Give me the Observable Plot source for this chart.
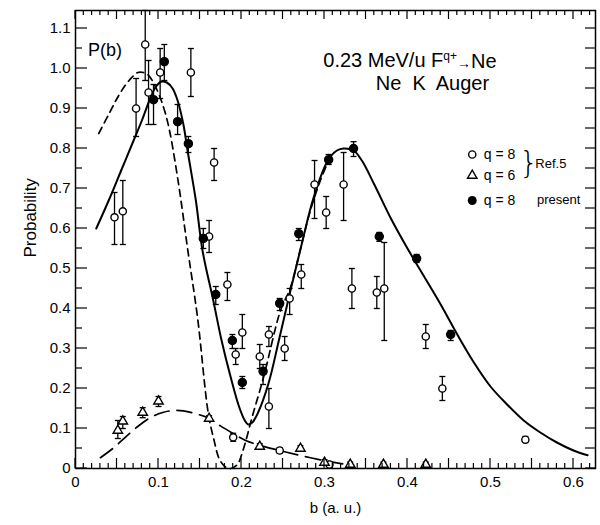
<!DOCTYPE html>
<html>
<head>
<meta charset="utf-8">
<script src="https://cdn.jsdelivr.net/npm/d3@7"></script>
<script src="https://cdn.jsdelivr.net/npm/@observablehq/plot@0.6"></script>
<style>
  html, body { margin: 0; padding: 0; background: #fff; }
</style>
</head>
<body>
<div id="chart"></div>
<script>
// ---- data ----
// q = 8 (Ref. 5), open circles
const openB  = [0.047,0.057,0.073,0.084,0.088,0.102,0.139,0.167,0.161,0.183,0.193,0.201,0.222,0.233,0.233,0.252,0.258,0.272,0.288,0.302,0.323,0.333,0.363,0.372,0.422,0.442,0.542,0.190,0.246,0.306];
const openP  = [0.628,0.643,0.900,1.060,0.940,0.990,0.990,0.765,0.580,0.460,0.285,0.340,0.280,0.335,0.155,0.300,0.425,0.485,0.710,0.640,0.710,0.450,0.440,0.450,0.330,0.200,0.072,0.078,0.045,0.010];
const openLo = [0.560,0.560,0.830,0.970,0.860,0.925,0.930,0.720,0.540,0.420,0.260,0.300,0.250,0.305,0.100,0.270,0.385,0.450,0.625,0.600,0.620,0.400,0.400,0.320,0.300,0.170,0.065,0.068,0.038,0.004];
const openHi = [0.690,0.720,0.975,1.145,1.020,1.050,1.050,0.800,0.620,0.490,0.300,0.385,0.310,0.355,0.200,0.330,0.450,0.510,0.770,0.680,0.790,0.500,0.480,0.565,0.360,0.230,0.080,0.088,0.052,0.016];
// q = 6 (Ref. 5), open triangles
const triB  = [0.051,0.057,0.081,0.100,0.161,0.222,0.271,0.300,0.331,0.371,0.422];
const triP  = [0.095,0.118,0.140,0.168,0.125,0.055,0.050,0.015,0.010,0.010,0.010];
const triLo = [0.075,0.100,0.127,0.155,0.118,0.048,0.043,0.008,0.004,0.004,0.004];
const triHi = [0.120,0.130,0.152,0.180,0.132,0.062,0.057,0.022,0.016,0.016,0.016];
// q = 8 present, filled circles
const fillB  = [0.094,0.107,0.123,0.136,0.154,0.169,0.189,0.201,0.226,0.246,0.269,0.305,0.335,0.366,0.411,0.452];
const fillP  = [0.922,1.017,0.867,0.812,0.575,0.435,0.320,0.215,0.243,0.413,0.587,0.772,0.800,0.580,0.525,0.335];
const fillLo = [0.860,0.970,0.835,0.790,0.550,0.410,0.300,0.200,0.210,0.395,0.570,0.760,0.780,0.568,0.515,0.320];
const fillHi = [0.960,1.060,0.910,0.830,0.600,0.455,0.335,0.230,0.260,0.425,0.600,0.785,0.817,0.590,0.535,0.345];
// theory curves
const solidB = [0.025,0.040,0.055,0.070,0.080,0.090,0.097,0.103,0.110,0.117,0.123,0.130,0.135,0.145,0.153,0.166,0.176,0.187,0.197,0.204,0.208,0.213,0.220,0.2325,0.245,0.259,0.273,0.287,0.304,0.315,0.323,0.335,0.345,0.360,0.380,0.400,0.420,0.440,0.460,0.480,0.500,0.520,0.540,0.560,0.580,0.600,0.617];
const solidP = [0.600,0.670,0.745,0.820,0.870,0.925,0.955,0.967,0.965,0.950,0.920,0.860,0.795,0.670,0.545,0.420,0.320,0.228,0.155,0.120,0.110,0.115,0.140,0.2125,0.320,0.445,0.565,0.678,0.770,0.795,0.800,0.795,0.770,0.710,0.625,0.550,0.480,0.410,0.335,0.265,0.205,0.160,0.120,0.090,0.065,0.045,0.033];
const shortB = [0.028,0.040,0.050,0.060,0.068,0.075,0.082,0.088,0.095,0.102,0.108,0.114,0.125,0.135,0.147,0.160,0.167,0.173,0.180,0.187,0.195,0.2025,0.213,0.2265,0.247,0.259,0.270,0.283,0.295,0.305];
const shortP = [0.8375,0.885,0.925,0.958,0.978,0.990,0.990,0.983,0.960,0.9275,0.890,0.8375,0.700,0.550,0.378,0.1375,0.070,0.025,0.005,0.000,0.010,0.050,0.130,0.2275,0.395,0.4525,0.540,0.645,0.720,0.770];
const longB = [0.030,0.045,0.060,0.075,0.090,0.105,0.118,0.130,0.145,0.161,0.175,0.190,0.205,0.223,0.246,0.270,0.299,0.320,0.335];
const longP = [0.027,0.050,0.078,0.105,0.127,0.140,0.145,0.144,0.137,0.125,0.106,0.0875,0.070,0.0575,0.045,0.033,0.020,0.012,0.008];
// axes and texts
const xTickValues = [0,0.1,0.2,0.3,0.4,0.5,0.6];
const xTickLabels = ["0","0.1","0.2","0.3","0.4","0.5","0.6"];
const yTickValues = [0,0.1,0.2,0.3,0.4,0.5,0.6,0.7,0.8,0.9,1.0,1.1];
const yTickLabels = ["0","0.1","0.2","0.3","0.4","0.5","0.6","0.7","0.8","0.9","1.0","1.1"];
const xLabel = "b (a. u.)";
const yLabel = "Probability";
const title1 = "0.23 MeV/u F";
const title2 = "Ne  K  Auger";
const pLabel = "P(b)";
const legendLabels = ["q = 8", "q = 6", "q = 8"];
const refLabel = "Ref.5";
const presentLabel = "present";

// ---- build tables ----
const pts = (B, P, Lo, Hi) => B.map((b, i) => ({b, p: P[i], lo: Lo[i], hi: Hi[i]}));
const openPts = pts(openB, openP, openLo, openHi);
const triPts  = pts(triB, triP, triLo, triHi);
const fillPts = pts(fillB, fillP, fillLo, fillHi);
const allPts = [...openPts, ...triPts, ...fillPts];
const toLine = (B, P) => B.map((b, i) => ({b, p: P[i]}));

const xMax = 0.6265, yMax = 1.145;
const font = "Liberation Sans, Arial, sans-serif";
const mL = 75, mR = 5, mT = 10, mB = 57, W = 600, H = 525;

const capSymbol = { draw(ctx, size) { const w = Math.sqrt(size / Math.PI); ctx.moveTo(-w, 0); ctx.lineTo(w, 0); } };

const isMaj = (v, step) => Math.abs(v / step - Math.round(v / step)) < 1e-6;
const xAll = d3.range(0, 63).map(i => i / 100);
const yAll = d3.range(0, 23).map(i => i / 20);

const chart = Plot.plot({
  width: W, height: H,
  marginLeft: mL, marginRight: mR, marginTop: mT, marginBottom: mB,
  style: { fontFamily: font },
  x: { domain: [0, xMax] },
  y: { domain: [0, yMax] },
  marks: [
    Plot.frame({ stroke: "#000", strokeWidth: 1.5 }),
    Plot.axisX({ ticks: xTickValues, tickFormat: d => xTickLabels[xTickValues.indexOf(d)], tickSize: 0, tickPadding: 8, fontSize: 15, label: xLabel, labelAnchor: "center", labelArrow: "none", labelOffset: 44 }),
    Plot.axisY({ ticks: yTickValues, tickFormat: d => yTickLabels[yTickValues.indexOf(d)], tickSize: 0, tickPadding: 5, fontSize: 15, label: null }),
    Plot.text([yLabel], { frameAnchor: "left", text: d => d, rotate: -90, dx: -45, dy: 18, fontSize: 17 }),
    // curves
    Plot.line(toLine(solidB, solidP), { x: "b", y: "p", curve: "catmull-rom", stroke: "#000", strokeWidth: 2 }),
    Plot.line(toLine(shortB, shortP), { x: "b", y: "p", curve: "catmull-rom", stroke: "#000", strokeWidth: 1.7, strokeDasharray: "7,5" }),
    Plot.line(toLine(longB, longP), { x: "b", y: "p", curve: "catmull-rom", stroke: "#000", strokeWidth: 1.7, strokeDasharray: "15,8" }),
    // error bars
    Plot.ruleX(allPts, { x: "b", y1: "lo", y2: "hi", stroke: "#000", strokeWidth: 1.3 }),
    Plot.dot(allPts, { x: "b", y: "lo", symbol: capSymbol, r: 3, stroke: "#000", strokeWidth: 1.3 }),
    Plot.dot(allPts, { x: "b", y: "hi", symbol: capSymbol, r: 3, stroke: "#000", strokeWidth: 1.3 }),
    // markers
    Plot.dot(openPts, { x: "b", y: "p", r: 3.6, fill: "#fff", stroke: "#000", strokeWidth: 1.4 }),
    Plot.dot(triPts, { x: "b", y: "p", r: 3.5, symbol: "triangle", fill: "#fff", stroke: "#000", strokeWidth: 1.4 }),
    Plot.dot(fillPts, { x: "b", y: "p", r: 4, fill: "#000", stroke: "#000" }),
    // annotations
    Plot.text([pLabel], { x: 0.015, y: 1.045, text: d => d, textAnchor: "start", fontSize: 18 }),
    Plot.text([title1], { x: 0.2985, y: 1.02, text: d => d, textAnchor: "start", fontSize: 20 }),
    Plot.text([title2], { x: 0.43, y: 0.963, text: d => d, textAnchor: "middle", fontSize: 20 }),
    // legend
    Plot.dot([0], { x: 0.478, y: 0.785, r: 3.6, fill: "#fff", stroke: "#000", strokeWidth: 1.4 }),
    Plot.dot([0], { x: 0.478, y: 0.7325, r: 3.5, symbol: "triangle", fill: "#fff", stroke: "#000", strokeWidth: 1.4 }),
    Plot.dot([0], { x: 0.478, y: 0.67, r: 4.5, fill: "#000" }),
    Plot.text(legendLabels, { x: 0.492, y: (d, i) => [0.785, 0.7325, 0.67][i], text: d => d, textAnchor: "start", fontSize: 14 }),
    Plot.text(["}"], { x: 0.546, y: 0.762, text: d => d, fontSize: 30, fontWeight: 100, fontFamily: "DejaVu Sans" }),
    Plot.text([refLabel], { x: 0.554, y: 0.762, text: d => d, textAnchor: "start", fontSize: 13 }),
    Plot.text([presentLabel], { x: 0.556, y: 0.672, text: d => d, textAnchor: "start", fontSize: 13 })
  ]
});

// superscript q+ and arrow in the title
d3.select(chart).selectAll("text").filter(function () { return this.textContent === title1; })
  .each(function () {
    const t = d3.select(this);
    t.append("tspan").attr("dy", "-0.55em").attr("font-size", "12px").text("q+");
    t.append("tspan").attr("dy", "0.55em").attr("font-size", "14px").text("→");
    t.append("tspan").text("Ne");
  });

// inward ticks on all four sides, placed with Plot's own scales, drawn on top
const sx = chart.scale("x"), sy = chart.scale("y");
const X0 = sx.apply(0), X1 = sx.apply(xMax), Y0 = sy.apply(0), Y1 = sy.apply(yMax);
const g = d3.select(chart).append("g").attr("stroke", "#000").attr("stroke-width", 1.2);
xAll.forEach(v => {
  const px = sx.apply(v), len = isMaj(v, 0.05) ? 10 : 5;
  g.append("line").attr("x1", px).attr("x2", px).attr("y1", Y0).attr("y2", Y0 - len);
  g.append("line").attr("x1", px).attr("x2", px).attr("y1", Y1).attr("y2", Y1 + (isMaj(v, 0.05) ? 9 : 5));
});
yAll.forEach(v => {
  const py = sy.apply(v);
  g.append("line").attr("x1", X0).attr("x2", X0 + (isMaj(v, 0.1) ? 12 : 7)).attr("y1", py).attr("y2", py);
  g.append("line").attr("x1", X1).attr("x2", X1 - 10).attr("y1", py).attr("y2", py);
});

document.getElementById("chart").appendChild(chart);
</script>
</body>
</html>
